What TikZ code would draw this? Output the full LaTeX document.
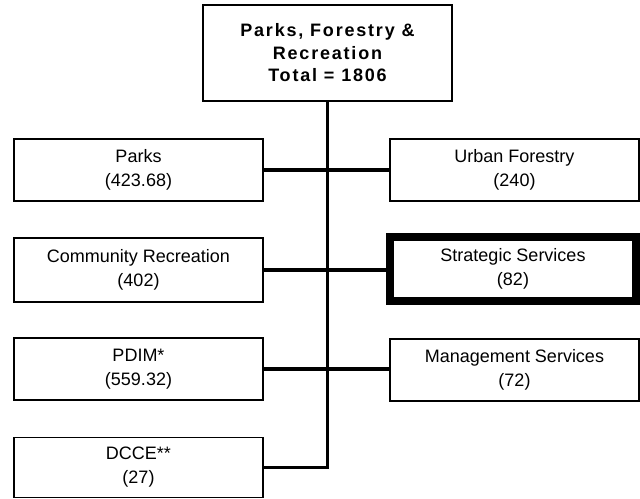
\documentclass[tikz,border=0pt]{standalone}
\usepackage{fontspec}
\setmainfont{Liberation Sans}
\newfontfamily\headfont[LetterSpace=10]{Liberation Sans}
\begin{document}
\begin{tikzpicture}[x=0.75pt,y=-0.75pt,
  unitbox/.style={draw=black,line width=1.2pt,fill=white,rectangle,
    minimum width=186.75pt,minimum height=46.5pt,inner sep=0pt,
    align=center,font=\fontsize{13.5}{18}\selectfont},
  headbox/.style={unitbox,minimum height=72pt,
    font=\headfont\bfseries\fontsize{13.5}{16.9}\selectfont},
  keybox/.style={unitbox,line width=6pt,minimum width=184.5pt,minimum height=48pt},
  link/.style={line width=2.6pt,draw=black}]
\useasboundingbox (0,0) rectangle (640,499);
\fill[white] (0,0) rectangle (640,499);

% organisational units
\node[headbox] (top) at (327.5,53) {Parks, Forestry \&\\Recreation\\Total = 1806};
\node[unitbox] (parks) at (138.5,170) {Parks\\(423.68)};
\node[unitbox] (urban) at (514.5,170) {Urban Forestry\\(240)};
\node[unitbox,minimum height=48pt] (comm) at (138.5,270) {Community Recreation\\(402)};
\node[keybox] (strat) at (513,269) {Strategic Services\\(82)};
\node[unitbox] (pdim) at (138.5,369) {PDIM*\\(559.32)};
\node[unitbox] (mgmt) at (514.5,370) {Management Services\\(72)};
\node[unitbox,minimum height=45pt] (dcce) at (138.5,467.5) {DCCE**\\(27)};

% reporting lines
\begin{scope}[on background layer/.try]
\draw[link] (top.south) |- (dcce.east);
\draw[link] (parks.east) -- (parks.east -| urban.west);
\draw[link] (comm.east) -- (comm.east -| strat.west);
\draw[link] (pdim.east) -- (pdim.east -| mgmt.west);
\end{scope}
\end{tikzpicture}
\end{document}
